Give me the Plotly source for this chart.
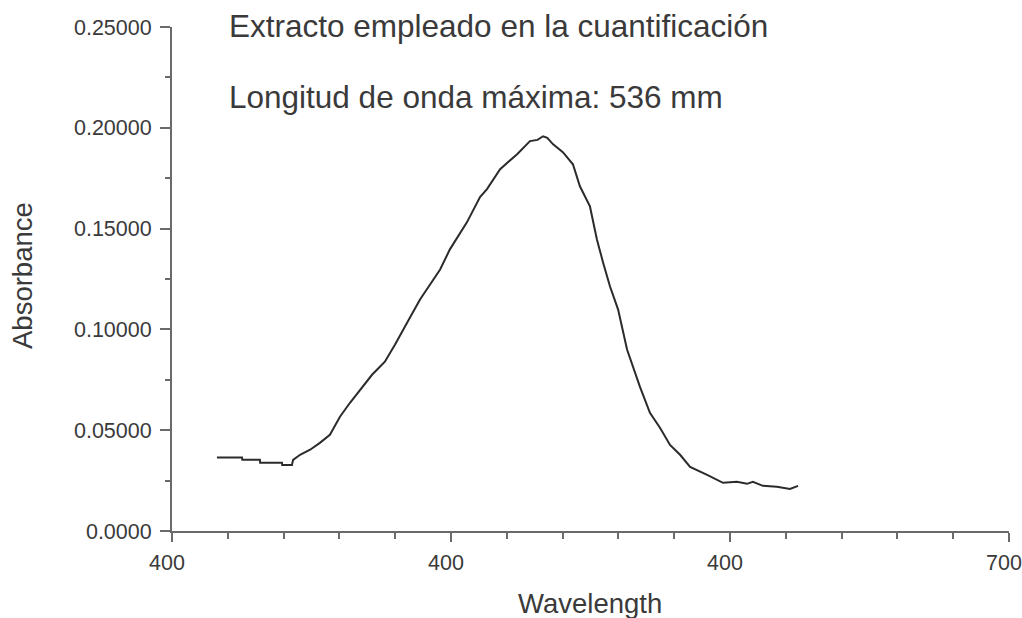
import plotly.graph_objects as go

wavelength = [416.1, 425.1, 425.2, 431.5, 431.6, 439.4, 439.5, 443.0, 443.4, 445.9, 449.5, 453.0,
              456.6, 460.2, 463.8, 467.4, 471.7, 476.3, 479.9, 485.3, 488.9, 492.5, 496.1,
              499.6, 505.7, 510.4, 512.9, 517.6, 523.7, 528.3, 531.0, 533.0, 534.5, 536.6,
              540.1, 543.7, 546.2, 549.8, 552.3, 554.5, 557.0, 559.9, 563.1, 567.7, 571.3,
              574.9, 578.5, 582.1, 585.7, 591.8, 597.5, 602.5, 606.1, 608.2, 611.8, 616.8,
              621.5, 624.4]
absorbance = [0.0364, 0.0364, 0.0353, 0.0353, 0.0339, 0.0339, 0.0328, 0.0328, 0.0353, 0.0378,
              0.0403, 0.0437, 0.0477, 0.0567, 0.0636, 0.0701, 0.0775, 0.0840, 0.0924, 0.1059,
              0.1148, 0.1223, 0.1297, 0.1397, 0.1531, 0.1656, 0.1696, 0.1795, 0.1869, 0.1934,
              0.1940, 0.1958, 0.1950, 0.1918, 0.1879, 0.1819, 0.1710, 0.1610, 0.1446, 0.1332,
              0.1213, 0.1098, 0.0900, 0.0716, 0.0586, 0.0512, 0.0427, 0.0378, 0.0318, 0.0278,
              0.0239, 0.0244, 0.0234, 0.0244, 0.0224, 0.0219, 0.0209, 0.0224]

x_tickvals = [400, 500, 600, 700]
x_ticktext = ["400", "400", "400", "700"]
y_tickvals = [0.0, 0.05, 0.10, 0.15, 0.20, 0.25]
y_ticktext = ["0.0000", "0.05000", "0.10000", "0.15000", "0.20000", "0.25000"]

title_line1 = "Extracto empleado en la cuantificación"
title_line2 = "Longitud de onda máxima: 536 mm"

FONT = "Liberation Sans, Arial, sans-serif"
TXT = "#3a3a3a"
AX = "#6a6a6a"

W, H = 1022, 618
ML, MR, MT, MB = 172, 13, 27, 87
PW, PH = W - ML - MR, H - MT - MB

fig = go.Figure()
fig.add_trace(go.Scatter(x=wavelength, y=absorbance, mode="lines",
                         line=dict(color="#2b2b2b", width=2), showlegend=False))

fig.update_layout(
    width=W, height=H,
    margin=dict(l=ML, r=MR, t=MT, b=MB, autoexpand=False),
    paper_bgcolor="white", plot_bgcolor="white",
    font=dict(family=FONT, color=TXT),
    xaxis=dict(range=[400, 700], tickvals=x_tickvals, ticktext=x_ticktext, automargin=False,
               showgrid=False, zeroline=False, showline=True, linecolor=AX, linewidth=2,
               ticks="outside", ticklen=9, tickwidth=2, tickcolor=AX,
               tickfont=dict(size=21.5, color=TXT, family=FONT),
               ticklabelshift=-5, ticklabelstandoff=2, ticklabeloverflow="allow",
               minor=dict(dtick=20, ticks="outside", ticklen=6, tickwidth=2, tickcolor=AX)),
    yaxis=dict(range=[0, 0.25], tickvals=y_tickvals, ticktext=y_ticktext, automargin=False,
               showgrid=False, zeroline=False, showline=True, linecolor=AX, linewidth=2,
               ticks="outside", ticklen=10, tickwidth=2, tickcolor=AX,
               tickfont=dict(size=21.5, color=TXT, family=FONT),
               ticklabelstandoff=4, ticklabeloverflow="allow",
               minor=dict(dtick=0.025, ticks="outside", ticklen=5, tickwidth=2, tickcolor=AX)),
)

def px_x(p):  # screen pixel -> paper fraction
    return (p - ML) / PW

def px_y(p):
    return 1 - (p - MT) / PH

fig.add_annotation(text=title_line1, xref="paper", yref="paper", x=px_x(227), y=px_y(26),
                   showarrow=False, xanchor="left", yanchor="middle",
                   font=dict(size=31.5, color=TXT, family=FONT))
fig.add_annotation(text=title_line2, xref="paper", yref="paper", x=px_x(227), y=px_y(97),
                   showarrow=False, xanchor="left", yanchor="middle",
                   font=dict(size=31.5, color=TXT, family=FONT))
# axis titles
fig.add_annotation(text="Wavelength", xref="paper", yref="paper", x=px_x(590), y=px_y(603),
                   showarrow=False, xanchor="center", yanchor="middle",
                   font=dict(size=27.5, color=TXT, family=FONT))
fig.add_annotation(text="Absorbance", xref="paper", yref="paper", x=px_x(22), y=px_y(276),
                   showarrow=False, xanchor="center", yanchor="middle", textangle=-90,
                   font=dict(size=27.5, color=TXT, family=FONT))

fig.write_html("out.html", config={"displayModeBar": False},
               post_script="document.body.style.margin='0';document.body.style.overflow='hidden';")
